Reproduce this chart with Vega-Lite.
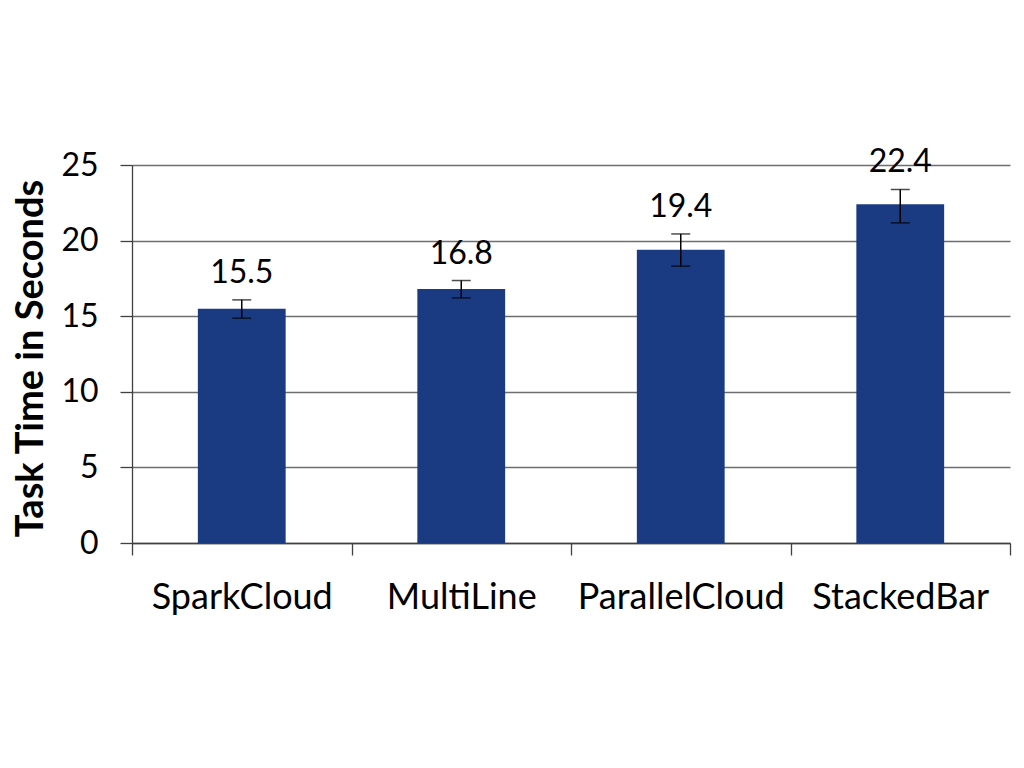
{
  "$schema": "https://vega.github.io/schema/vega-lite/v6.json",
  "width": 878,
  "height": 378,
  "autosize": {"type": "none"},
  "padding": {"left": 132, "top": 165, "right": 14, "bottom": 225},
  "background": "white",
  "data": {
    "values": [
      {"method": "SparkCloud", "time": 15.5, "lo": 14.87, "hi": 16.08},
      {"method": "MultiLine", "time": 16.8, "lo": 16.21, "hi": 17.36},
      {"method": "ParallelCloud", "time": 19.4, "lo": 18.31, "hi": 20.44},
      {"method": "StackedBar", "time": 22.4, "lo": 21.17, "hi": 23.38}
    ]
  },
  "encoding": {
    "x": {
      "field": "method",
      "type": "nominal",
      "sort": null,
      "scale": {"paddingInner": 0, "paddingOuter": 0},
      "axis": {
        "title": null,
        "labelAngle": 0,
        "labelFont": "Lato",
        "labelFontSize": 36,
        "labelColor": "#000000",
        "labelPadding": 25,
        "labelLimit": 400,
        "labelOverlap": false,
        "tickBand": "extent",
        "tickSize": 12,
        "tickColor": "#404040",
        "tickWidth": 1.3,
        "domainColor": "#404040",
        "domainWidth": 1.5
      }
    }
  },
  "layer": [
    {
      "mark": {"type": "bar", "color": "#1A3B82", "width": {"band": 0.4}},
      "encoding": {
        "y": {
          "field": "time",
          "type": "quantitative",
          "scale": {"domain": [0, 25], "nice": false},
          "axis": {
            "values": [0, 5, 10, 15, 20, 25],
            "grid": true,
            "gridColor": "#6e6e6e",
            "gridWidth": 1.3,
            "domainColor": "#404040",
            "domainWidth": 1.3,
            "tickColor": "#404040",
            "tickSize": 12,
            "tickWidth": 1.3,
            "labelFont": "Lato",
            "labelFontSize": 32,
            "labelColor": "#000000",
            "labelPadding": 22,
            "title": "Task Time in Seconds",
            "titleFont": "Lato",
            "titleFontSize": 38,
            "titleFontWeight": "bold",
            "titleColor": "#000000",
            "titleX": -101,
            "titleY": 193,
            "titleAlign": "center",
            "titleBaseline": "middle",
            "titleAngle": -90
          }
        }
      }
    },
    {
      "mark": {"type": "rule", "color": "#000000", "strokeWidth": 1.5},
      "encoding": {
        "y": {"field": "lo", "type": "quantitative"},
        "y2": {"field": "hi"}
      }
    },
    {
      "mark": {"type": "tick", "color": "#000000", "size": 19, "thickness": 1.5},
      "encoding": {"y": {"field": "lo", "type": "quantitative"}}
    },
    {
      "mark": {"type": "tick", "color": "#000000", "size": 19, "thickness": 1.5},
      "encoding": {"y": {"field": "hi", "type": "quantitative"}}
    },
    {
      "mark": {
        "type": "text",
        "font": "Lato",
        "fontSize": 32,
        "color": "#000000",
        "baseline": "alphabetic",
        "dy": -17
      },
      "encoding": {
        "y": {"field": "hi", "type": "quantitative"},
        "text": {"field": "time", "type": "quantitative", "format": ".1f"}
      }
    }
  ],
  "config": {"view": {"stroke": null}}
}
